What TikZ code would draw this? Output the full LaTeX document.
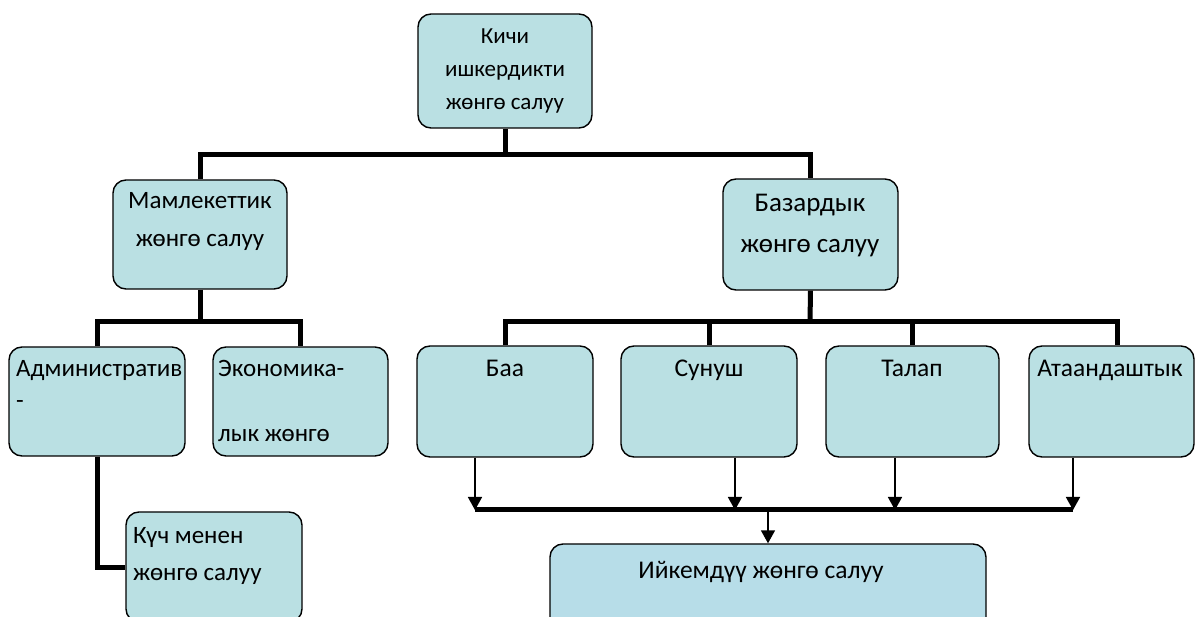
\documentclass[tikz,border=0pt]{standalone}
\usepackage{fontspec}
\setmainfont{Carlito}
\usetikzlibrary{arrows.meta}
\definecolor{boxfill}{HTML}{BAE0E3}
\definecolor{boxblue}{HTML}{B7DDE8}

\begin{document}
\begin{tikzpicture}[x=1pt, y=-1pt,
    box/.style={draw, line width=1.4pt, rounded corners=13pt, fill=boxfill, inner sep=0pt},
    txt/.style={inner sep=0pt, align=center, anchor=base},
    lefttxt/.style={inner sep=0pt, align=left, anchor=base west},
    link/.style={line width=5pt},
    arr/.style={line width=1.6pt, -{Triangle[length=13pt,width=14pt]}}]
    \useasboundingbox (0,0) rectangle (1195,617);

    % boxes
    \node[box, minimum width=174pt, minimum height=114pt] (top) at (505,71) {};
    \node[box, minimum width=174pt, minimum height=109pt] (mam) at (200,234.5) {};
    \node[box, minimum width=175pt, minimum height=111pt] (baz) at (810.5,234.5) {};
    \node[box, minimum width=176pt, minimum height=109pt] (adm) at (97,401.5) {};
    \node[box, minimum width=175pt, minimum height=109pt] (eko) at (300.5,401.5) {};
    \node[box, minimum width=176pt, minimum height=110pt] (kuch) at (214,567) {};
    \node[box, minimum width=176pt, minimum height=111pt] (baa) at (505,401.5) {};
    \node[box, minimum width=176pt, minimum height=111pt] (sun) at (709,401.5) {};
    \node[box, minimum width=173pt, minimum height=111pt] (tal) at (912.5,401.5) {};
    \node[box, minimum width=165pt, minimum height=111pt] (ata) at (1111.5,401.5) {};
    \node[box, fill=boxblue, minimum width=436pt, minimum height=86pt] (ijk) at (768,587) {};

    % texts (base = last line)
    \node[txt, font=\fontsize{23}{33}\selectfont] (topt) at (505,110) {Кичи\\ишкердикти\\жөнгө салуу};
    \node[txt, font=\fontsize{25}{38}\selectfont] (mamt) at (200,247) {Мамлекеттик\\жөнгө салуу};
    \node[txt, font=\fontsize{27}{41}\selectfont] (bazt) at (810,253) {Базардык\\жөнгө салуу};
    \node[lefttxt, font=\fontsize{25}{32}\selectfont] (admt) at (16,409) {Административ\\-};
    \node[lefttxt, font=\fontsize{25}{33}\selectfont] (ekot) at (218,442) {Экономика-\\[32pt]лык жөнгө};
    \node[lefttxt, font=\fontsize{25}{37}\selectfont] (kucht) at (133,580) {Күч менен\\жөнгө салуу};
    \node[txt, font=\fontsize{25.5}{28}\selectfont] (baat) at (505,377) {Баа};
    \node[txt, font=\fontsize{25.5}{28}\selectfont] (sunt) at (709,377) {Сунуш};
    \node[txt, font=\fontsize{25.5}{28}\selectfont] (talt) at (912,377) {Талап};
    \node[txt, font=\fontsize{25.5}{28}\selectfont] (atat) at (1110,377) {Атаандаштык};
    \node[txt, font=\fontsize{25.5}{28}\selectfont] (ijkt) at (761,579) {Ийкемдүү жөнгө салуу};

    % tree links
    \coordinate (j1) at (505,155);
    \coordinate (j2) at (200,322);
    \coordinate (j3) at (810,322);
    \draw[link] (top.south) -- (j1);
    \draw[link] (mam.north) |- (j1) -| (baz.north);
    \draw[link] (mam.south) -- (j2);
    \draw[link] (adm.north) |- (j2) -| (eko.north);
    \draw[link] (adm.south) |- (kuch.west);
    \draw[link] (baz.south) -- (j3);
    \draw[link] (baa.north) |- (j3) -| ([xshift=6pt]ata.north);
    \draw[link] (sun.north) -- (sun.north |- j3);
    \draw[link] (tal.north) -- (tal.north |- j3);

    % arrows to the bus
    \coordinate (b1) at (475,510);
    \coordinate (b2) at (735,510);
    \coordinate (b3) at (895,510);
    \coordinate (b4) at (1073,510);
    \coordinate (bm) at (768,510);
    \draw[arr] (baa.south -| b1) -- (b1);
    \draw[arr] (sun.south -| b2) -- (b2);
    \draw[arr] (tal.south -| b3) -- (b3);
    \draw[arr] (ata.south -| b4) -- (b4);
    \draw[link] (b1) -- (b4);
    \draw[arr] (bm) -- (ijk.north);
\end{tikzpicture}
\end{document}
